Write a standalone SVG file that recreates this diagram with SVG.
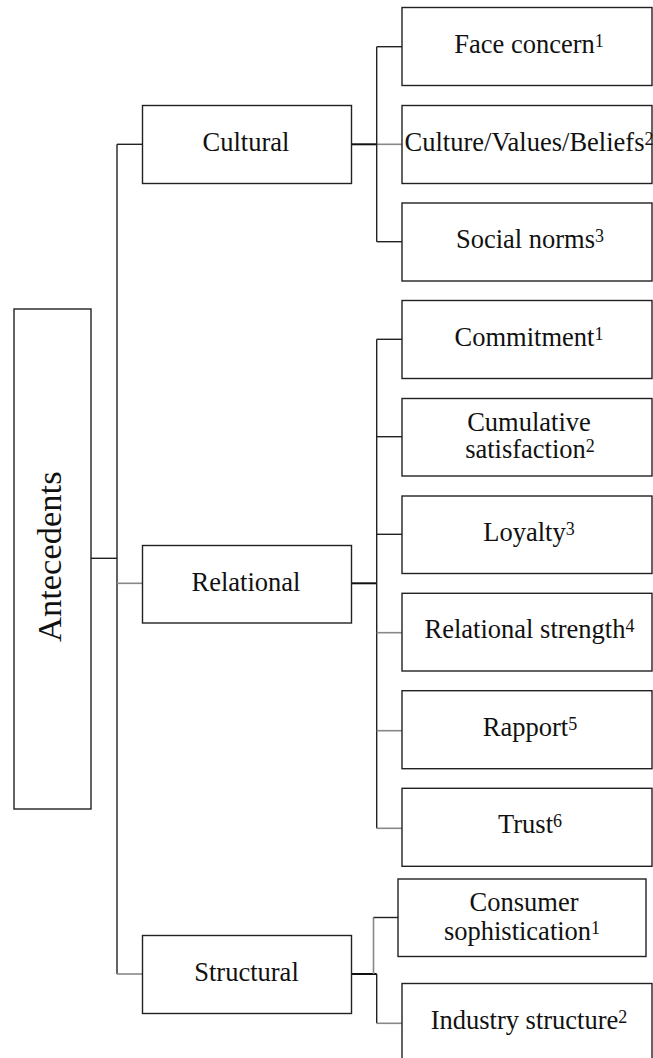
<svg xmlns="http://www.w3.org/2000/svg" width="653" height="1058" viewBox="0 0 653 1058">
<style>
.box{fill:#fff;stroke:#222;stroke-width:1.4}
.t{font-family:'Liberation Serif','Times New Roman',Tinos,'DejaVu Serif',serif;font-size:26.5px;fill:#111;text-anchor:middle}
.sup{font-size:18px}
.dk{stroke:#222;stroke-width:1.4;fill:none}
.th{stroke:#111;stroke-width:2;fill:none}
.gr{stroke:#888;stroke-width:1.6;fill:none}
</style>
<rect width="653" height="1058" fill="#fff"/>
<g id="connectors">
<line class="dk" x1="117" y1="144.3" x2="117" y2="974"/>
<line class="dk" x1="117" y1="144.3" x2="142.5" y2="144.3"/>
<line class="dk" x1="91" y1="558.3" x2="117" y2="558.3"/>
<line class="gr" x1="117" y1="583.3" x2="142.5" y2="583.3"/>
<line class="gr" x1="117" y1="974" x2="142.5" y2="974"/>
<line class="th" x1="351.7" y1="144.3" x2="376.7" y2="144.3"/>
<line class="gr" x1="376.7" y1="144.3" x2="402" y2="144.3"/>
<line class="dk" x1="376.7" y1="46.7" x2="376.7" y2="241.7"/>
<line class="dk" x1="376.7" y1="46.7" x2="402" y2="46.7"/>
<line class="dk" x1="376.7" y1="241.7" x2="402" y2="241.7"/>
<line class="th" x1="351.7" y1="583.3" x2="376.7" y2="583.3"/>
<line class="dk" x1="376.7" y1="339.3" x2="376.7" y2="828.3"/>
<line class="dk" x1="376.7" y1="339.3" x2="402" y2="339.3"/>
<line class="dk" x1="376.7" y1="436.7" x2="402" y2="436.7"/>
<line class="dk" x1="376.7" y1="534.3" x2="402" y2="534.3"/>
<line class="gr" x1="376.7" y1="632.7" x2="402" y2="632.7"/>
<line class="gr" x1="376.7" y1="730.7" x2="402" y2="730.7"/>
<line class="gr" x1="376.7" y1="828.3" x2="402" y2="828.3"/>
<line class="th" x1="351.7" y1="974" x2="376.7" y2="974"/>
<line class="gr" x1="373.5" y1="974" x2="373.5" y2="917.5"/>
<line class="dk" x1="373.5" y1="917.5" x2="398" y2="917.5"/>
<line class="dk" x1="376.7" y1="974" x2="376.7" y2="1023.3"/>
<line class="gr" x1="376.7" y1="1023.3" x2="402" y2="1023.3"/>
</g>
<g id="antecedents">
<rect class="box" x="14" y="309" width="77" height="500"/>
<text class="t" style="font-size:34.5px" transform="translate(60.7,556.7) rotate(-90)">Antecedents</text>
</g>
<g id="cultural">
<rect class="box" x="142.5" y="105.5" width="209" height="78"/>
<text class="t" x="246" y="150.7">Cultural</text>
</g>
<g id="relational">
<rect class="box" x="142.5" y="545.5" width="209" height="77.5"/>
<text class="t" x="246" y="590.7">Relational</text>
</g>
<g id="structural">
<rect class="box" x="142.5" y="935.5" width="209" height="78"/>
<text class="t" x="246.5" y="980.5">Structural</text>
</g>
<g id="face-concern">
<rect class="box" x="402" y="7.5" width="250" height="78"/>
<text class="t" x="529" y="53.3">Face concern<tspan class="sup" dy="-6">1</tspan></text>
</g>
<g id="culture-values-beliefs">
<rect class="box" x="402" y="105.5" width="250" height="78"/>
<text class="t" x="529" y="150.7">Culture/Values/Beliefs<tspan class="sup" dy="-6">2</tspan></text>
</g>
<g id="social-norms">
<rect class="box" x="402" y="203" width="250" height="78"/>
<text class="t" x="530" y="248.3">Social norms<tspan class="sup" dy="-6">3</tspan></text>
</g>
<g id="commitment">
<rect class="box" x="402" y="300.5" width="250" height="78"/>
<text class="t" x="529" y="346">Commitment<tspan class="sup" dy="-6">1</tspan></text>
</g>
<g id="cumulative-satisfaction">
<rect class="box" x="402" y="398.5" width="250" height="77.5"/>
<text class="t" x="529" y="431">Cumulative</text>
<text class="t" x="530" y="458">satisfaction<tspan class="sup" dy="-6">2</tspan></text>
</g>
<g id="loyalty">
<rect class="box" x="402" y="496" width="250" height="77.5"/>
<text class="t" x="529" y="540.7">Loyalty<tspan class="sup" dy="-6">3</tspan></text>
</g>
<g id="relational-strength">
<rect class="box" x="402" y="593.3" width="250" height="77.7"/>
<text class="t" x="529.5" y="638.3">Relational strength<tspan class="sup" dy="-6">4</tspan></text>
</g>
<g id="rapport">
<rect class="box" x="402" y="690.7" width="250" height="78"/>
<text class="t" x="530" y="736">Rapport<tspan class="sup" dy="-6">5</tspan></text>
</g>
<g id="trust">
<rect class="box" x="402" y="788.3" width="250" height="78"/>
<text class="t" x="530" y="833.3">Trust<tspan class="sup" dy="-6">6</tspan></text>
</g>
<g id="consumer-sophistication">
<rect class="box" x="398" y="879" width="248" height="77.5"/>
<text class="t" x="524" y="911">Consumer</text>
<text class="t" x="522" y="940">sophistication<tspan class="sup" dy="-6">1</tspan></text>
</g>
<g id="industry-structure">
<rect class="box" x="402" y="983.5" width="250" height="100"/>
<text class="t" x="529" y="1029">Industry structure<tspan class="sup" dy="-6">2</tspan></text>
</g>
</svg>
